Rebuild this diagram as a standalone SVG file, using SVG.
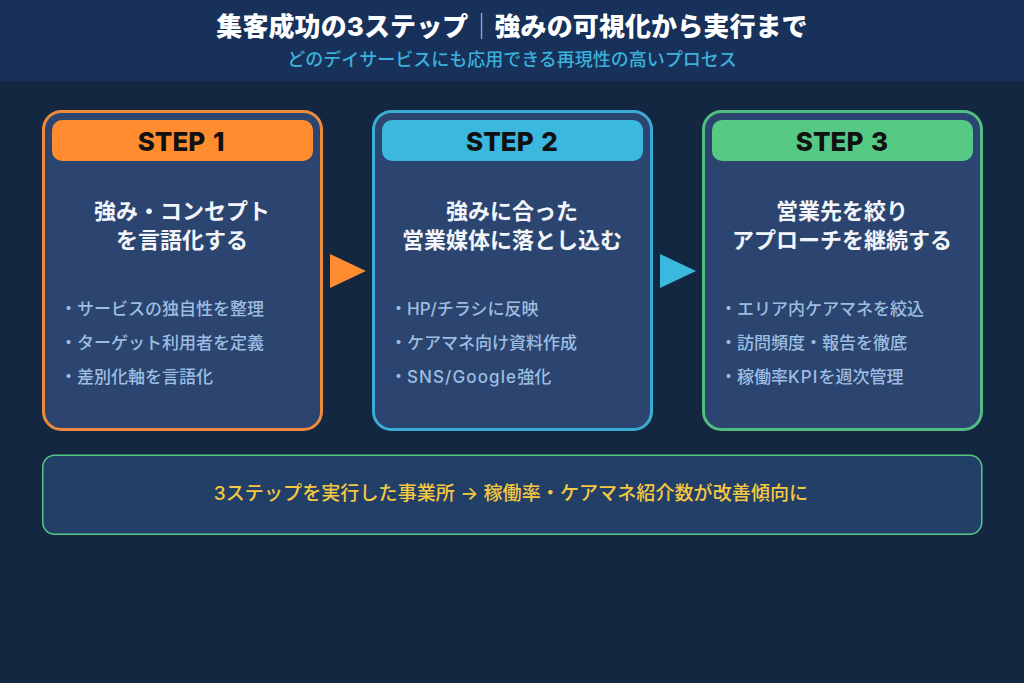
<svg xmlns="http://www.w3.org/2000/svg" width="1024" height="683" viewBox="0 0 1024 683">
<style>
text{font-family:Inter,"Noto Sans CJK JP",sans-serif;text-anchor:middle}
.card{fill:#2b4570;stroke-width:3}
.step{font-size:26px;font-weight:800;fill:#111;word-spacing:2px}
.head{font-size:22px;font-weight:700;fill:#f2f5fa}
.item{font-size:17px;font-weight:500;fill:#9dbde0;text-anchor:start}
.wide{letter-spacing:1.100px}
</style>
<rect width="1024" height="683" fill="#132840"/>
<rect width="1024" height="81" fill="#17315a"/>
<text x="512" y="36" font-size="26" font-weight="800" fill="#fff" letter-spacing="0.100">集客成功の3ステップ<tspan fill="#a9b8d0" font-weight="400">｜</tspan>強みの可視化から実行まで</text>
<text x="512" y="66" font-size="18" font-weight="500" fill="#3bb0db">どのデイサービスにも応用できる再現性の高いプロセス</text>
<g id="step1">
<rect class="card" x="43.500" y="111.500" width="278" height="318" rx="18" stroke="#ee8a3e"/>
<rect x="52" y="120" width="261" height="41" rx="10" fill="#ff8c2e"/>
<text class="step" x="181" y="151">STEP 1</text>
<text class="head" x="182" y="219">強み・コンセプト</text>
<text class="head" x="182" y="248">を言語化する</text>
<text class="item" x="60" y="315">・サービスの独自性を整理</text>
<text class="item" x="60" y="349">・ターゲット利用者を定義</text>
<text class="item" x="60" y="383">・差別化軸を言語化</text>
</g>
<g id="step2">
<rect class="card" x="373.500" y="111.500" width="278" height="318" rx="18" stroke="#3bacd4"/>
<rect x="382" y="120" width="261" height="41" rx="10" fill="#3bb8de"/>
<text class="step" x="512" y="151">STEP 2</text>
<text class="head" x="512" y="219">強みに合った</text>
<text class="head" x="512" y="248">営業媒体に落とし込む</text>
<text class="item" x="390" y="315">・HP/チラシに反映</text>
<text class="item" x="390" y="349">・ケアマネ向け資料作成</text>
<text class="item" x="390" y="383">・<tspan class="wide">SNS/Google</tspan>強化</text>
</g>
<g id="step3">
<rect class="card" x="703.500" y="111.500" width="278" height="318" rx="18" stroke="#52bd80"/>
<rect x="712" y="120" width="261" height="41" rx="10" fill="#56c985"/>
<text class="step" x="842" y="151">STEP 3</text>
<text class="head" x="842" y="219">営業先を絞り</text>
<text class="head" x="842" y="248">アプローチを継続する</text>
<text class="item" x="720" y="315">・エリア内ケアマネを絞込</text>
<text class="item" x="720" y="349">・訪問頻度・報告を徹底</text>
<text class="item" x="720" y="383">・稼働率<tspan class="wide">KPI</tspan>を週次管理</text>
</g>
<g id="connectors">
<polygon points="330,254 366,271 330,288" fill="#ff8c2e"/>
<polygon points="660,254 696,271 660,288" fill="#3bb8de"/>
</g>
<g id="result">
<rect x="42.750" y="455.250" width="939" height="79" rx="12" fill="#223f68" stroke="#56c985" stroke-width="1.500"/>
<text x="511" y="500" font-size="19" font-weight="500" fill="#f5c842" letter-spacing="0.100">3ステップを実行した事業所 → 稼働率・ケアマネ紹介数が改善傾向に</text>
</g>
</svg>
